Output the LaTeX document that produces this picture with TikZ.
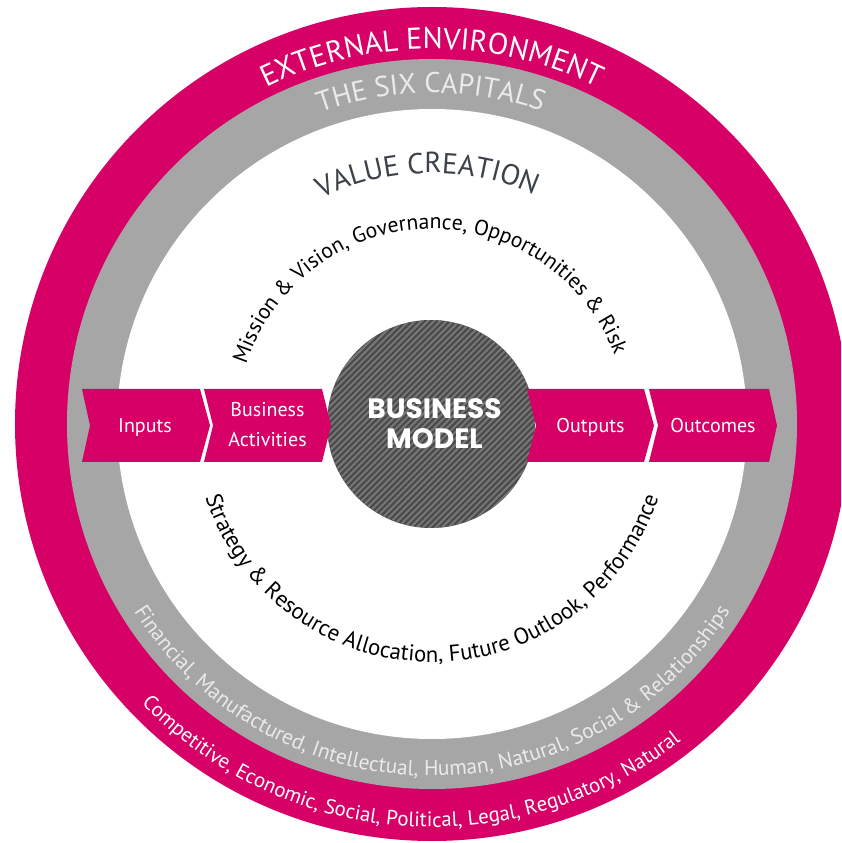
\documentclass[tikz,border=0pt]{standalone}
\usepackage{fontspec}
\setmainfont{PT Sans}
\newfontfamily\bmfont{Poppins}
\usetikzlibrary{decorations.text}
\definecolor{mag}{RGB}{214,0,102}
\definecolor{bandgray}{RGB}{166,166,166}
\definecolor{lighttext}{RGB}{234,234,234}
\definecolor{slate}{RGB}{60,66,72}
\definecolor{bmdark}{RGB}{74,74,74}
\definecolor{bmlight}{RGB}{118,118,118}
\tikzset{
  chevron/.style={fill=mag, draw=none},
  chevlabel/.style={text=white, font=\fontsize{20}{30}\selectfont, align=center, inner sep=0},
  toptext/.style={decorate, decoration={text along path, text align=center, text={#1}}},
}
\begin{document}
\begin{tikzpicture}[x=1pt,y=1pt]
\useasboundingbox (-432,-419) rectangle (409,424);
\fill[white] (-432,-419) rectangle (409,424);
\begin{scope}
  \clip (-432,-419) rectangle (409,424);
  \fill[mag] (0,0) circle (417);
\end{scope}
\fill[bandgray] (0,0) circle (365);
\fill[white] (0,0) circle (315);

% business model circle
\node[circle, minimum size=208, inner sep=0, fill=bmdark] (bm) at (-1,0) {};
\begin{scope}
  \clip (bm.center) circle (104);
  \foreach \k in {-26,...,26} {
    \draw[bmlight, line width=2] ({\k*6.3-120}, -120) -- ++(240,240);
  }
\end{scope}

% chevrons
\fill[chevron] (-350,35) -- (-232,35) -- (-222,-1.5) -- (-232,-38) -- (-350,-38) -- (-342,-1.5) -- cycle;
\fill[chevron] (-228,35) -- (-110,35) -- (-101,-1.5) -- (-110,-38) -- (-228,-38) -- (-219,-1.5) -- cycle;
\fill[chevron] (95,35) -- (212,35) -- (222,-1.5) -- (212,-38) -- (95,-38) -- (104,-1.5) -- cycle;
\fill[chevron] (217,35) -- (337,35) -- (345,-1.5) -- (337,-38) -- (217,-38) -- (226,-1.5) -- cycle;

\node[chevlabel, anchor=base] (inputs) at (-287,-9) {Inputs};
\node[chevlabel] (activities) at (-164.5,-1) {Business\\Activities};
\node[chevlabel, anchor=base] (outputs) at (158.5,-9) {Outputs};
\node[chevlabel, anchor=base] (outcomes) at (281,-9) {Outcomes};

\node[text=white, font=\bmfont\bfseries\fontsize{28}{30}\selectfont, align=center, inner sep=0] (bmtext) at (2.5,0) {BUSINESS\\MODEL};

% curved texts, top (clockwise)
\path[toptext={|\fontsize{30}{32}\selectfont\color{white}|EXTERNAL ENVIRONMENT}]
  (180:375) arc[start angle=180, end angle=0, radius=375];
\path[toptext={|\fontsize{28.5}{30}\selectfont\color{lighttext}|THE SIX CAPITALS}]
  (180.2:331) arc[start angle=180.2, end angle=0.2, radius=331];
\path[toptext={|\fontsize{29}{30}\selectfont\color{slate}|VALUE CREATION}]
  (181:251) arc[start angle=181, end angle=1, radius=251];
\path[toptext={|\fontsize{21.7}{24}\selectfont\color{black}|Mission {\&} Vision, Governance, Opportunities {\&} Risk}]
  (181.5:195) arc[start angle=181.5, end angle=1.5, radius=195];

% curved texts, bottom (counterclockwise)
\path[toptext={|\fontsize{22.8}{24}\selectfont\color{black}|Strategy {\&} Resource Allocation, Future Outlook, Performance}]
  (180:238) arc[start angle=180, end angle=360, radius=238];
\path[toptext={|\fontsize{21.5}{24}\selectfont\color{lighttext}|Financial, Manufactured, Intellectual, Human, Natural, Social {\&} Relationships}]
  (180:352) arc[start angle=180, end angle=360, radius=352];
\path[toptext={|\fontsize{20.8}{24}\selectfont\color{white}|Competitive, Economic, Social, Political, Legal, Regulatory, Natural}]
  (176:403) arc[start angle=176, end angle=356, radius=403];
\end{tikzpicture}
\end{document}
